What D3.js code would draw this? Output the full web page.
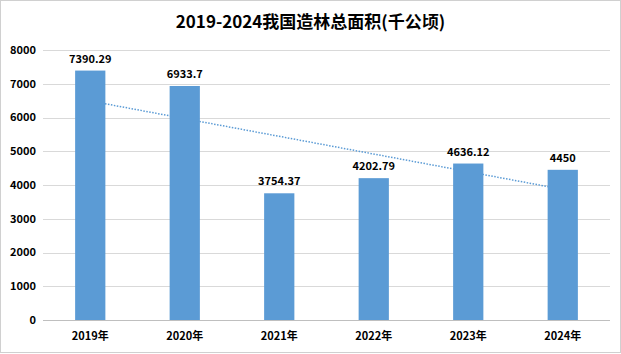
<!DOCTYPE html>
<html>
<head>
<meta charset="utf-8">
<script src="https://cdn.jsdelivr.net/npm/d3@7"></script>
<style>
  body { margin: 0; background: #fff; }
  svg { display: block; font-family: "Noto Sans CJK SC", "Liberation Sans", sans-serif; }
</style>
</head>
<body>
<svg id="chart"></svg>
<script>
const years = ["2019年", "2020年", "2021年", "2022年", "2023年", "2024年"];
const areas = [7390.29, 6933.7, 3754.37, 4202.79, 4636.12, 4450];
const labels = ["7390.29", "6933.7", "3754.37", "4202.79", "4636.12", "4450"];
const yTicks = [0, 1000, 2000, 3000, 4000, 5000, 6000, 7000, 8000];
// dotted trend line, read at first and last year
const trendValues = [6490, 3870];

const width = 621;
const height = 354;
const margin = { top: 50, right: 11, bottom: 34, left: 43 };

const svg = d3.select("#chart").attr("width", width).attr("height", height);

// outer frame
svg.append("rect")
  .attr("x", 0.5).attr("y", 0.5)
  .attr("width", width - 1).attr("height", height - 2)
  .attr("fill", "#fff").attr("stroke", "#d0d0d0");

const x = d3.scaleBand()
  .domain(years)
  .range([margin.left, width - margin.right])
  .paddingInner(0.68)
  .paddingOuter(0.34);

const y = d3.scaleLinear()
  .domain([0, 8000])
  .range([height - margin.bottom, margin.top]);

// title
svg.append("text")
  .attr("x", width / 2).attr("y", 28)
  .attr("text-anchor", "middle")
  .attr("font-size", 17).attr("font-weight", "bold")
  .attr("fill", "#000")
  .text("2019-2024我国造林总面积(千公顷)");

// grid
svg.append("g")
  .selectAll("line")
  .data(yTicks)
  .join("line")
  .attr("x1", margin.left).attr("x2", width - margin.right)
  .attr("y1", d => Math.round(y(d)) + 0.5).attr("y2", d => Math.round(y(d)) + 0.5)
  .attr("stroke", d => d === 0 ? "#bfbfbf" : "#d9d9d9");

// y labels
svg.append("g")
  .selectAll("text")
  .data(yTicks)
  .join("text")
  .attr("x", 36).attr("y", d => y(d))
  .attr("dy", "0.35em")
  .attr("text-anchor", "end")
  .attr("font-size", 11).attr("font-weight", "bold")
  .text(d => d);

// trend line
const cx = d => x(d) + x.bandwidth() / 2;
svg.append("path")
  .datum([[years[0], trendValues[0]], [years[years.length - 1], trendValues[1]]])
  .attr("fill", "none")
  .attr("stroke", "#5b9bd5")
  .attr("stroke-width", 1.5)
  .attr("stroke-dasharray", "1.5,1.5")
  .attr("d", d3.line().x(d => cx(d[0])).y(d => y(d[1])));

// bars
svg.append("g")
  .selectAll("rect")
  .data(areas)
  .join("rect")
  .attr("x", (d, i) => x(years[i]))
  .attr("y", d => y(d))
  .attr("width", x.bandwidth())
  .attr("height", d => y(0) - y(d))
  .attr("fill", "#5b9bd5");

// value labels
svg.append("g")
  .selectAll("text")
  .data(areas)
  .join("text")
  .attr("x", (d, i) => cx(years[i]))
  .attr("y", d => y(d) - 8)
  .attr("text-anchor", "middle")
  .attr("font-size", 11).attr("font-weight", "bold")
  .text((d, i) => labels[i]);

// x labels
svg.append("g")
  .selectAll("text")
  .data(years)
  .join("text")
  .attr("x", d => cx(d))
  .attr("y", 340)
  .attr("text-anchor", "middle")
  .attr("font-size", 11).attr("font-weight", "bold")
  .text(d => d);
</script>
</body>
</html>
